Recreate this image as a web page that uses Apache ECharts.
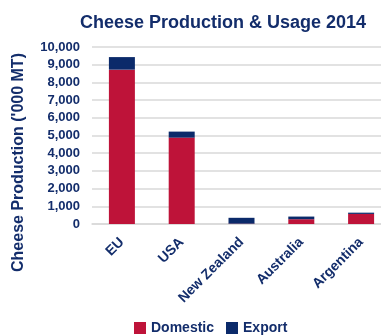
<!DOCTYPE html>
<html>
<head>
<meta charset="utf-8">
<script src="https://cdn.jsdelivr.net/npm/echarts@6/dist/echarts.min.js"></script>
<style>
  html, body { margin: 0; padding: 0; background: #ffffff; }
  #chart { width: 381px; height: 335px; }
</style>
</head>
<body>
<div id="chart"></div>
<script>
// Cheese production split into domestic usage and export, thousand metric tonnes
const categories = ['EU', 'USA', 'New Zealand', 'Australia', 'Argentina'];
const domestic = [8720, 4880, 20, 270, 570];
const exportVals = [710, 340, 330, 150, 70];
const yTicks = { min: 0, max: 10000, interval: 1000 };

const RED = '#BE1339';
const NAVY = '#0B2A6A';
const TEXT = '#132D6B';
const FONT = '"Liberation Sans", Arial, sans-serif';

const chart = echarts.init(document.getElementById('chart'));
chart.setOption({
  animation: false,
  backgroundColor: '#ffffff',
  title: {
    text: 'Cheese Production & Usage 2014',
    left: 75,
    top: 9,
    textStyle: { fontFamily: FONT, fontSize: 18, fontWeight: 'bold', color: TEXT }
  },
  legend: {
    data: ['Domestic', 'Export'],
    left: 129,
    top: 316,
    itemWidth: 12,
    itemHeight: 12,
    itemGap: 12,
    icon: 'rect',
    textStyle: { fontFamily: FONT, fontSize: 14, fontWeight: 'bold', color: TEXT }
  },
  grid: {
    left: 92,
    right: -10,
    top: 47,
    bottom: 111,
    containLabel: false,
    outerBoundsMode: 'none'
  },
  xAxis: {
    type: 'category',
    data: categories,
    axisLine: { show: true, lineStyle: { color: '#D9D9D9', width: 1.5 } },
    axisTick: { show: false },
    axisLabel: {
      interval: 0,
      rotate: 45,
      margin: 16,
      fontFamily: FONT,
      fontSize: 14,
      fontWeight: 'bold',
      color: TEXT
    }
  },
  yAxis: {
    type: 'value',
    min: yTicks.min,
    max: yTicks.max,
    interval: yTicks.interval,
    name: "Cheese Production ('000 MT)",
    nameLocation: 'middle',
    nameGap: 65,
    nameTextStyle: {
      fontFamily: FONT,
      fontSize: 16,
      fontWeight: 'bold',
      color: TEXT,
      padding: [0, 54, 0, 0]
    },
    axisLine: { show: false },
    axisTick: { show: false },
    splitLine: { lineStyle: { color: '#D9D9D9', width: 1.5 } },
    axisLabel: {
      margin: 12,
      fontFamily: FONT,
      fontSize: 13,
      fontWeight: 'bold',
      color: TEXT,
      formatter: v => v.toLocaleString('en-US')
    }
  },
  series: [
    {
      name: 'Domestic',
      type: 'bar',
      stack: 'total',
      barWidth: 26,
      itemStyle: { color: RED },
      data: domestic
    },
    {
      name: 'Export',
      type: 'bar',
      stack: 'total',
      barWidth: 26,
      itemStyle: { color: NAVY },
      data: exportVals
    }
  ]
});
</script>
</body>
</html>
